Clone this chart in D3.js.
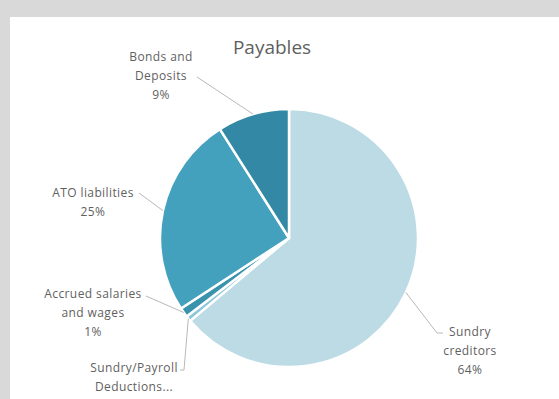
<!DOCTYPE html>
<html>
<head>
<meta charset="utf-8">
<script src="https://cdn.jsdelivr.net/npm/d3@7/dist/d3.min.js"></script>
<style>
  html, body { margin: 0; padding: 0; background: #d9d9d9; }
  svg { display: block; }
  text { font-family: "Open Sans", "Noto Sans", sans-serif; fill: #5f5f5f; }
</style>
</head>
<body>
<svg id="chart" width="559" height="399"></svg>
<script>
// Payables breakdown, clockwise from 12 o'clock
const categories = ["Sundry creditors", "Sundry/Payroll Deductions", "Accrued salaries and wages", "ATO liabilities", "Bonds and Deposits"];
const shares = [63.9, 0.7, 1.2, 25.2, 9.0];
const colors = ["#bddbe5", "#8cc6d8", "#3a93ad", "#43a1be", "#3389a5"];
// label text lines (the deductions label is clipped in the original layout)
const labelLines = [
  ["Sundry", "creditors", "64%"],
  ["Sundry/Payroll", "Deductions..."],
  ["Accrued salaries", "and wages", "1%"],
  ["ATO liabilities", "25%"],
  ["Bonds and", "Deposits", "9%"]
];

const width = 559, height = 399;
const cx = 289, cy = 238, radius = 129;

// label block centres and leader-line elbows
const labelLayout = [
  { x: 470, y: 331, elbow: [[437, 333], [443, 333]] },
  { x: 134, y: 367, elbow: [[184, 370], [180, 370]] },
  { x: 93,  y: 293, elbow: [[146, 296]] },
  { x: 93,  y: 192, elbow: [[139, 193]] },
  { x: 161, y: 56,  elbow: [[197, 77]] }
];

const svg = d3.select("#chart");

// chart area
svg.append("rect")
  .attr("x", 10).attr("y", 17)
  .attr("width", width - 10).attr("height", height - 17)
  .attr("fill", "#ffffff");

svg.append("text")
  .attr("x", 272).attr("y", 54)
  .attr("text-anchor", "middle")
  .style("font-size", "19px")
  .text("Payables");

const pie = d3.pie().value(d => d).sort(null).startAngle(0).endAngle(2 * Math.PI);
const arcs = pie(shares);
const arc = d3.arc().innerRadius(0).outerRadius(radius);

const g = svg.append("g").attr("transform", `translate(${cx},${cy})`);

g.selectAll("path.slice")
  .data(arcs)
  .join("path")
  .attr("class", "slice")
  .attr("d", arc)
  .attr("fill", (d, i) => colors[i])
  .attr("stroke", "#ffffff")
  .attr("stroke-width", 2.5)
  .attr("stroke-linejoin", "round");

// leader lines from the slice rim to each label
arcs.forEach((d, i) => {
  const mid = (d.startAngle + d.endAngle) / 2;
  const px = cx + radius * Math.sin(mid);
  const py = cy - radius * Math.cos(mid);
  const pts = [[px, py]].concat(labelLayout[i].elbow);
  svg.append("path")
    .attr("d", d3.line()(pts))
    .attr("fill", "none")
    .attr("stroke", "#a6a6a6")
    .attr("stroke-width", 0.8);
});

// labels
labelLines.forEach((lines, i) => {
  const L = labelLayout[i];
  const t = svg.append("text")
    .attr("text-anchor", "middle")
    .style("font-size", "12px")
    .style("letter-spacing", "0.4px");
  lines.forEach((s, j) => {
    t.append("tspan")
      .attr("x", L.x)
      .attr("y", L.y + 4.5 + j * 19)
      .text(s);
  });
});
</script>
</body>
</html>
